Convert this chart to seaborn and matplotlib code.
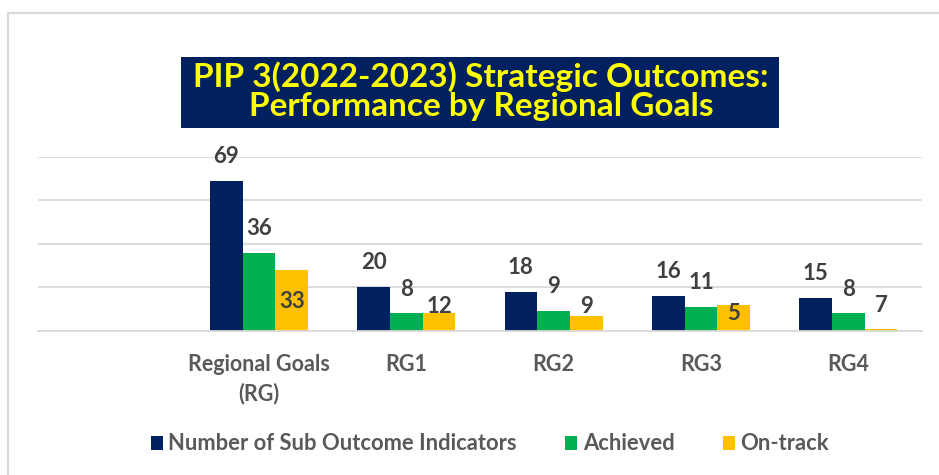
import matplotlib
matplotlib.use("Agg")
import matplotlib.pyplot as plt
from matplotlib.patches import Rectangle, Patch
from matplotlib.lines import Line2D
import pandas as pd
import seaborn as sns

# categories (first slot is left blank in the original chart)
categories = ["", "Regional Goals\n(RG)", "RG1", "RG2", "RG3", "RG4"]
groups = ["Regional Goals\n(RG)", "RG1", "RG2", "RG3", "RG4"]
series = ["Number of Sub Outcome Indicators", "Achieved", "On-track"]

indicators = [69, 20, 18, 16, 15]
achieved = [36, 8, 9, 11, 8]
# on-track bars as drawn vs. the numbers printed on them (they differ in the source)
ontrack_bars = [28, 8, 7, 12, 1]
ontrack_labels = [33, 12, 9, 5, 7]

colors = ["#002060", "#00B050", "#FFC000"]

df = pd.DataFrame({
    "group": groups * 3,
    "series": [series[0]] * 5 + [series[1]] * 5 + [series[2]] * 5,
    "value": indicators + achieved + ontrack_bars,
})
labels = indicators + achieved + ontrack_labels

sns.set_theme(style="white")
plt.rcParams["font.family"] = ["Lato", "DejaVu Sans"]

fig = plt.figure(figsize=(9.39, 4.75), dpi=100)
ax = fig.add_axes([38 / 939, 1 - 330.7 / 475, 884 / 939, 173.7 / 475])

sns.barplot(data=df, x="group", y="value", hue="series", order=categories,
            hue_order=series, palette=colors, saturation=1, width=0.667,
            gap=0, linewidth=0, ax=ax, legend=False)

ax.set_ylim(0, 80)
ax.set_xlim(-0.5, 5.5)
ax.set_yticks([0, 20, 40, 60, 80])
ax.set_yticklabels([])
ax.yaxis.grid(True, color="#d9d9d9", linewidth=1.3)
ax.set_axisbelow(True)
for s in ["top", "right", "left"]:
    ax.spines[s].set_visible(False)
ax.spines["bottom"].set_color("#d9d9d9")
ax.spines["bottom"].set_linewidth(1.3)
ax.set_xlabel("")
ax.set_ylabel("")
ax.tick_params(axis="x", length=0, pad=16.5)
ax.tick_params(axis="y", length=0)
for t in ax.get_xticklabels():
    t.set_fontsize(15.5)
    t.set_fontweight("bold")
    t.set_color("#595959")
    t.set_linespacing(1.45)
    t.set_verticalalignment("top")

# data labels (offsets in points above the bar top)
ontrack_offsets = [-23, 5, 6.5, -6.5, 16.5]
for i, cont in enumerate(ax.containers):
    for j, bar in enumerate(cont):
        x = bar.get_x() + bar.get_width() / 2
        h = bar.get_height()
        if i < 2:
            off = 17.5
        else:
            off = ontrack_offsets[j]
        ax.annotate(str(labels[i * 5 + j]), (x, h), xytext=(0, off),
                    textcoords="offset points", ha="center", va="center",
                    fontsize=16, fontweight="bold", color="#404040")

# title box
fig.patches.append(Rectangle((181 / 939, 1 - 128 / 475), 598 / 939, 71 / 475,
                             transform=fig.transFigure, facecolor="#002060",
                             edgecolor="none"))
fig.text(481 / 939, 1 - 91 / 475,
         "PIP 3(2022-2023) Strategic Outcomes:\nPerformance by Regional Goals",
         ha="center", va="center", fontsize=24, fontweight="bold",
         color="#FFFF00", linespacing=0.98)

# chart border (top and left only visible)
fig.lines.append(Line2D([7.5 / 939, 7.5 / 939], [0, 1 - 12.5 / 475],
                        transform=fig.transFigure, color="#d9d9d9", linewidth=1.5))
fig.lines.append(Line2D([7.5 / 939, 1], [1 - 12.5 / 475, 1 - 12.5 / 475],
                        transform=fig.transFigure, color="#d9d9d9", linewidth=1.5))

handles = [Patch(facecolor=c, edgecolor="none") for c in colors]
leg = fig.legend(handles, series, loc="center", ncol=3, frameon=False,
                 bbox_to_anchor=(490 / 939, 1 - 444 / 475),
                 handlelength=0.55, handleheight=0.6, handletextpad=0.25,
                 columnspacing=2.2, prop={"size": 15.8, "weight": "bold"})
for t in leg.get_texts():
    t.set_color("#595959")

fig.savefig("out.png", dpi=100)
